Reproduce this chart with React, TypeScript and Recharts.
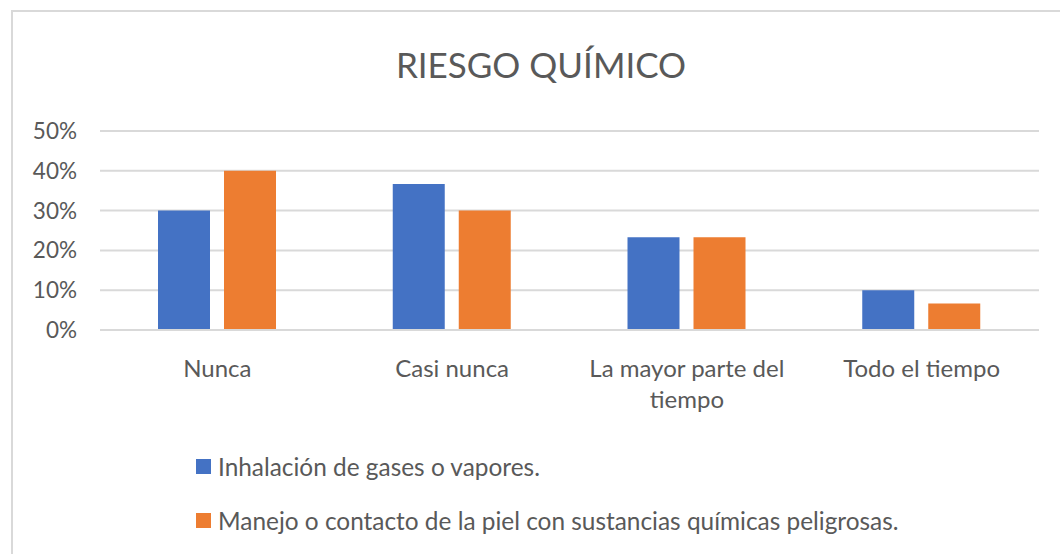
import { BarChart, Bar, XAxis, YAxis, CartesianGrid, Legend } from "recharts";

// Categories and series values (percent)
const categories = ["Nunca", "Casi nunca", "La mayor parte del tiempo", "Todo el tiempo"];
const inhalacion = [30, 36.67, 23.33, 10];
const manejo = [40, 30, 23.33, 6.67];
const yTicks = [0, 10, 20, 30, 40, 50];

const seriesNames = [
  "Inhalación de gases o vapores.",
  "Manejo o contacto de la piel con sustancias químicas peligrosas.",
];

const FONT = "Lato, 'Open Sans', sans-serif";
const TEXT_COLOR = "#595959";

const data = categories.map((name, i) => ({ name, inhalacion: inhalacion[i], manejo: manejo[i] }));

// greedy word wrap by character count
const wrapLabel = (label: string, maxChars: number) => {
  const lines: string[] = [];
  let current = "";
  label.split(" ").forEach((word) => {
    const next = current ? `${current} ${word}` : word;
    if (next.length > maxChars && current) {
      lines.push(current);
      current = word;
    } else {
      current = next;
    }
  });
  if (current) lines.push(current);
  return lines;
};

// Category labels that wrap like the original
const CategoryTick = (props: any) => {
  const { x, y, payload } = props;
  const lines = wrapLabel(String(payload.value), 18);
  return (
    <text
      x={x}
      y={y}
      textAnchor="middle"
      fill={TEXT_COLOR}
      style={{ fontSize: 24, fontFamily: FONT }}
    >
      {lines.map((line, i) => (
        <tspan key={i} x={x} dy={i === 0 ? 17 : 31}>
          {line}
        </tspan>
      ))}
    </text>
  );
};

// Stacked legend rows with square markers
const renderLegend = (props: any) => {
  const { payload } = props;
  return (
    <div>
      {payload.map((entry: any) => (
        <div key={entry.value} style={{ display: "flex", alignItems: "center", height: 54 }}>
          <span style={{ width: 15, height: 15, background: entry.color, display: "inline-block", marginRight: 7 }} />
          <span style={{ fontSize: 24.4, fontFamily: FONT, color: TEXT_COLOR, whiteSpace: "nowrap" }}>
            {entry.value}
          </span>
        </div>
      ))}
    </div>
  );
};

const App = () => {
  return (
    <div
      style={{
        position: "absolute",
        left: 0,
        top: 0,
        width: 1060,
        height: 554,
        overflow: "hidden",
        background: "#fff",
      }}
    >
      {/* chart frame */}
      <div
        style={{
          position: "absolute",
          left: 11,
          top: 10,
          width: 1100,
          height: 600,
          border: "2px solid #d9d9d9",
          boxSizing: "border-box",
        }}
      />
      <div
        style={{
          position: "absolute",
          left: 0,
          width: 1082,
          top: 47,
          textAlign: "center",
          fontFamily: FONT,
          fontSize: 35,
          lineHeight: 1,
          color: TEXT_COLOR,
        }}
      >
        RIESGO QUÍMICO
      </div>
      <div style={{ position: "absolute", left: 0, top: 0 }}>
        <BarChart
          width={1060}
          height={554}
          data={data}
          barSize={52}
          barGap={14}
          margin={{ top: 131, right: 21, bottom: 164, left: 10 }}
        >
          <CartesianGrid vertical={false} stroke="#d9d9d9" strokeWidth={2} />
          <XAxis
            dataKey="name"
            height={60}
            axisLine={{ stroke: "#d9d9d9", strokeWidth: 2 }}
            tickLine={false}
            interval={0}
            tick={<CategoryTick />}
            tickMargin={24}
          />
          <YAxis
            width={90}
            domain={[0, 50]}
            ticks={yTicks}
            tickFormatter={(v: number) => `${v}%`}
            axisLine={false}
            tickLine={false}
            tickSize={0}
            tickMargin={23}
            tick={{ fill: TEXT_COLOR, fontSize: 22.5, fontFamily: FONT }}
          />
          <Legend
            layout="horizontal"
            verticalAlign="middle"
            align="center"
            content={renderLegend}
            wrapperStyle={{ position: "absolute", top: 439, left: 196, width: 860 }}
          />
          <Bar dataKey="inhalacion" name={seriesNames[0]} fill="#4472C4" isAnimationActive={false} />
          <Bar dataKey="manejo" name={seriesNames[1]} fill="#ED7D31" isAnimationActive={false} />
        </BarChart>
      </div>
    </div>
  );
};

export default App;
